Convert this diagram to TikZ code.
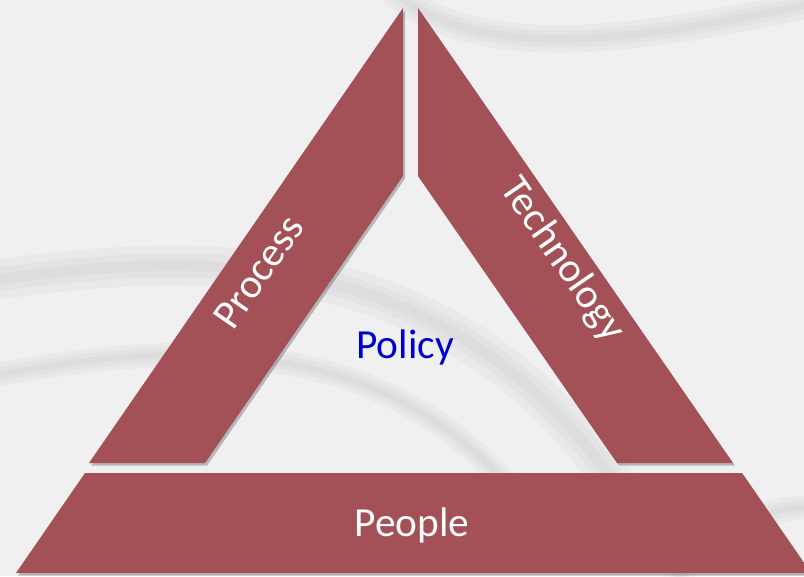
\documentclass[tikz,border=0pt]{standalone}
\usepackage{fontspec}
\setmainfont{Carlito}
\usepackage{tikz}
\usetikzlibrary{shadows}
\definecolor{PPTRed}{RGB}{164,80,87}
\definecolor{PPTBlue}{RGB}{0,0,204}
\definecolor{PPTBack}{RGB}{240,240,240}
\definecolor{PPTSwoosh}{RGB}{120,120,120}

\begin{document}
\begin{tikzpicture}[x=0.75pt, y=-0.75pt,
      piece/.style={fill=PPTRed, draw=none,
                    drop shadow={shadow xshift=1.5pt, shadow yshift=-2pt,
                                 opacity=0.35, fill=black!70}},
      lbl/.style={font=\fontsize{31}{36}\selectfont, text=white, inner sep=0pt},
      swoosh/.style={draw=PPTSwoosh, line cap=butt, opacity=0.05}
    ]
    \useasboundingbox (0,0) rectangle (804,576);
    \clip (0,0) rectangle (804,576);
    \fill[PPTBack] (0,0) rectangle (804,576);

    % faint background swooshes
    \foreach \w in {30,18,8}{
      \draw[swoosh, line width=\w pt] (-20,282) .. controls (230,245) and (470,250) .. (640,520);
      \draw[swoosh, line width=0.6*\w pt] (-20,378) .. controls (200,335) and (430,330) .. (560,560);
      \draw[swoosh, line width=0.7*\w pt] (380,-20) .. controls (470,70) and (640,40) .. (830,0);
      \draw[swoosh, line width=0.6*\w pt] (660,600) .. controls (720,520) and (780,500) .. (830,510);
    }

    % the three pieces
    \fill[piece] (89,463) -- (403,8) -- (403,176) -- (205,463) -- cycle;
    \fill[piece] (418,8) -- (733,463) -- (617,463) -- (418,176) -- cycle;
    \fill[piece] (85,473) -- (742,473) -- (811,573) -- (16,573) -- cycle;

    \node[lbl, rotate=55.4]  (proc) at (259,272) {Process};
    \node[lbl, rotate=-55.4] (tech) at (562,260) {Technology};
    \node[lbl, anchor=base]  (peop) at (412,536) {People};
    \node[lbl, anchor=base, text=PPTBlue] (poli) at (405,358) {Policy};
  \end{tikzpicture}
\end{document}
